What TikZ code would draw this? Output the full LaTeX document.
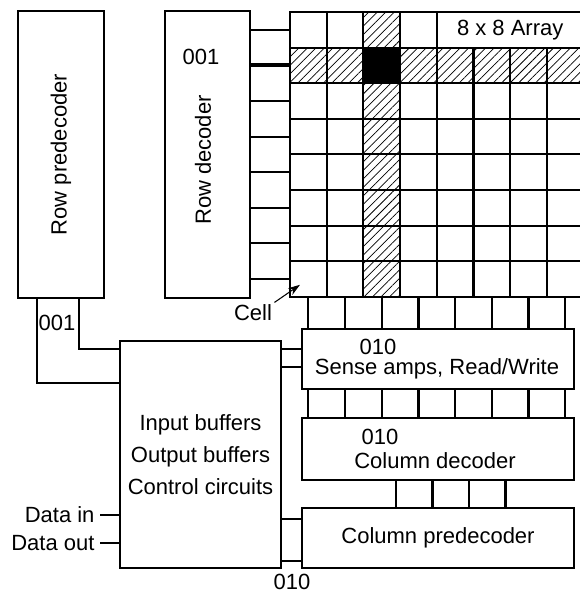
\documentclass[tikz,border=0pt]{standalone}
\usepackage{fontspec}
\setmainfont{Liberation Sans}
\usetikzlibrary{positioning,calc,patterns.meta,arrows.meta}
\newcommand{\pxl}{0.75pt}

\begin{document}
\begin{tikzpicture}[x=0.75pt,y=-0.75pt,line width=1.6pt,
    font=\fontsize{16.5}{24}\selectfont,
    blk/.style={draw, inner sep=0pt, outer sep=0pt, anchor=north west},
    cell/.style={draw, inner sep=0pt, outer sep=0pt, anchor=north west,
        minimum width=36.7*\pxl, minimum height=35.6*\pxl},
    hatch/.style={pattern={Lines[angle=45,distance=4.5pt,line width=0.55pt]}}]
    \useasboundingbox (0,0) rectangle (580,593);

    % decoders and blocks
    \node[blk, minimum width=86*\pxl, minimum height=287*\pxl] (rowpre) at (18,11) {};
    \node[rotate=90] (rowpretxt) at (rowpre.center) {Row predecoder};
    \node[blk, minimum width=85*\pxl, minimum height=287*\pxl] (rowdec) at (165,11) {};
    \node[rotate=90] (rowdectxt) at (203,160) {Row decoder};
    \node (rowsel) at (201,57) {001};
    \node[blk, minimum width=161*\pxl, minimum height=227*\pxl, align=center] (ctrl) at (120,341)
        {Input buffers\\Output buffers\\Control circuits};
    \node[blk, minimum width=272*\pxl, minimum height=60*\pxl] (sense) at (302,329) {};
    \node (sensesel) at (378,347) {010};
    \node (sensetxt) at (437,369) {Sense amps, Read/Write};
    \node[blk, minimum width=272*\pxl, minimum height=62*\pxl] (coldec) at (302,418) {};
    \node (coldecsel) at (380,437) {010};
    \node (coldectxt) at (435,461) {Column decoder};
    \node[blk, minimum width=272*\pxl, minimum height=60*\pxl] (colpre) at (302,508) {};
    \node (colpretxt) at (colpre.center) {Column predecoder};

    % the array
    \foreach \c in {0,...,3}
        \node[cell] (cell-0-\c) at (290+36.7*\c,12) {};
    \foreach \r in {1,...,7}
        \foreach \c in {0,...,7}
            \node[cell] (cell-\r-\c) at (290+36.7*\c,12+35.6*\r) {};
    \node[cell, minimum width=4*36.7*\pxl] (arraylbl) at (290+36.7*4,12) {8 x 8 Array};
    \foreach \c in {0,1,3,4,5,6,7}
        \fill[hatch] (cell-1-\c.south west) rectangle (cell-1-\c.north east);
    \foreach \r in {0,2,3,4,5,6,7}
        \fill[hatch] (cell-\r-2.south west) rectangle (cell-\r-2.north east);
    \fill (cell-1-2.south west) rectangle (cell-1-2.north east);

    % word lines and bit lines
    \foreach \r in {0,2,3,4,5,6,7}
        \draw (rowdec.east |- cell-\r-0.west) -- (cell-\r-0.west);
    \draw[line width=3pt] (rowdec.east |- cell-1-0.west) -- (cell-1-0.west);
    \foreach \c in {0,...,7} {
        \draw (cell-7-\c.south) -- (sense.north -| cell-7-\c.south);
        \draw (sense.south -| cell-7-\c.south) -- (coldec.north -| cell-7-\c.south);
    }
    \foreach \x in {396,432.5,469,505.5}
        \draw (coldec.south -| \x,0) -- (colpre.north -| \x,0);

    % control connections
    \foreach \y in {349,367}
        \draw (ctrl.east |- 0,\y) -- (sense.west |- 0,\y);
    \foreach \y in {519,561}
        \draw (ctrl.east |- 0,\y) -- (colpre.west |- 0,\y);
    \draw (rowpre.south -| 37,0) |- (ctrl.west |- 0,383);
    \draw (rowpre.south -| 79,0) |- (ctrl.west |- 0,349);
    \node (rowpresel) at (57,323) {001};
    \node[anchor=east] (datain) at (100,515) {Data in};
    \node[anchor=east] (dataout) at (100,543) {Data out};
    \draw (datain.east) -- (ctrl.west |- datain.east);
    \draw (dataout.east) -- (ctrl.west |- dataout.east);
    \node[inner sep=1pt] (colsel) at (292,582) {010};

    \node (celllbl) at (253,313) {Cell};
    \draw[line width=0.8pt, -{Stealth[length=9pt,width=6pt]}] ([shift={(-3,3)}]celllbl.north east)
        -- ($(cell-7-0.south west)+(10,-12)$);
\end{tikzpicture}
\end{document}
